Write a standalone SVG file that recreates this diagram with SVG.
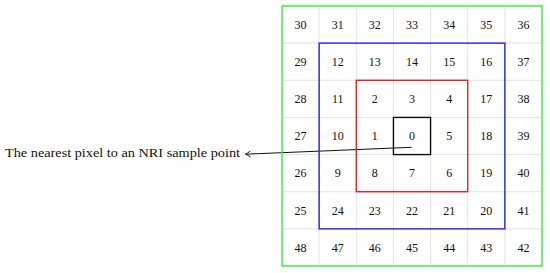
<svg xmlns="http://www.w3.org/2000/svg" width="550" height="273" viewBox="0 0 550 273">
<defs>
<style>
.grid{stroke:#dcdcdc;stroke-width:0.8;fill:none}
.n{font-family:"Liberation Serif","DejaVu Serif",serif;font-size:12px;fill:#111;text-anchor:middle}
.lbl{font-family:"Liberation Serif","DejaVu Serif",serif;font-size:12.5px;fill:#111}
.box{fill:none;stroke-width:1.4}
.conn{stroke:#111;stroke-width:1;fill:none}
</style>
<marker id="ah" viewBox="-6 -4 7 8" refX="0" refY="0" markerWidth="7" markerHeight="8" markerUnits="userSpaceOnUse" orient="auto">
<path d="M-5 -3 Q-1.5 -0.6 0 0 Q-1.5 0.6 -5 3" fill="none" stroke="#111" stroke-width="0.9"/>
</marker>
</defs>
<rect width="550" height="273" fill="#fff"/>
<g id="grid">
<path class="grid" d="M319.14 6V266M356.29 6V266M393.43 6V266M430.57 6V266M467.71 6V266M504.86 6V266M282 43.14H542M282 80.29H542M282 117.43H542M282 154.57H542M282 191.71H542M282 228.86H542"/>
<g class="n">
<text x="300.57" y="28.8">30</text><text x="337.71" y="28.8">31</text><text x="374.86" y="28.8">32</text><text x="412" y="28.8">33</text><text x="449.14" y="28.8">34</text><text x="486.29" y="28.8">35</text><text x="523.43" y="28.8">36</text>
<text x="300.57" y="65.9">29</text><text x="337.71" y="65.9">12</text><text x="374.86" y="65.9">13</text><text x="412" y="65.9">14</text><text x="449.14" y="65.9">15</text><text x="486.29" y="65.9">16</text><text x="523.43" y="65.9">37</text>
<text x="300.57" y="103.1">28</text><text x="337.71" y="103.1">11</text><text x="374.86" y="103.1">2</text><text x="412" y="103.1">3</text><text x="449.14" y="103.1">4</text><text x="486.29" y="103.1">17</text><text x="523.43" y="103.1">38</text>
<text x="300.57" y="140.2">27</text><text x="337.71" y="140.2">10</text><text x="374.86" y="140.2">1</text><text x="412" y="140.2">0</text><text x="449.14" y="140.2">5</text><text x="486.29" y="140.2">18</text><text x="523.43" y="140.2">39</text>
<text x="300.57" y="177.3">26</text><text x="337.71" y="177.3">9</text><text x="374.86" y="177.3">8</text><text x="412" y="177.3">7</text><text x="449.14" y="177.3">6</text><text x="486.29" y="177.3">19</text><text x="523.43" y="177.3">40</text>
<text x="300.57" y="214.5">25</text><text x="337.71" y="214.5">24</text><text x="374.86" y="214.5">23</text><text x="412" y="214.5">22</text><text x="449.14" y="214.5">21</text><text x="486.29" y="214.5">20</text><text x="523.43" y="214.5">41</text>
<text x="300.57" y="251.6">48</text><text x="337.71" y="251.6">47</text><text x="374.86" y="251.6">46</text><text x="412" y="251.6">45</text><text x="449.14" y="251.6">44</text><text x="486.29" y="251.6">43</text><text x="523.43" y="251.6">42</text>
</g>
</g>
<g id="connectors">
<line class="conn" x1="411.5" y1="147.3" x2="245.5" y2="154.2" marker-end="url(#ah)"/>
</g>
<g id="outer-green"><rect class="box" x="282" y="6" width="260" height="260" stroke="#33ee33"/></g>
<g id="middle-blue"><rect class="box" x="319.14" y="43.14" width="185.72" height="185.72" stroke="#2222ee"/></g>
<g id="inner-red"><rect class="box" x="356.29" y="80.29" width="111.42" height="111.42" stroke="#ee2222"/></g>
<g id="center-black"><rect class="box" x="393.43" y="117.43" width="37.14" height="37.14" stroke="#111" stroke-width="1.1"/></g>
<g id="label"><text class="lbl" x="5" y="156.8" textLength="235" lengthAdjust="spacingAndGlyphs">The nearest pixel to an NRI sample point</text></g>
</svg>
